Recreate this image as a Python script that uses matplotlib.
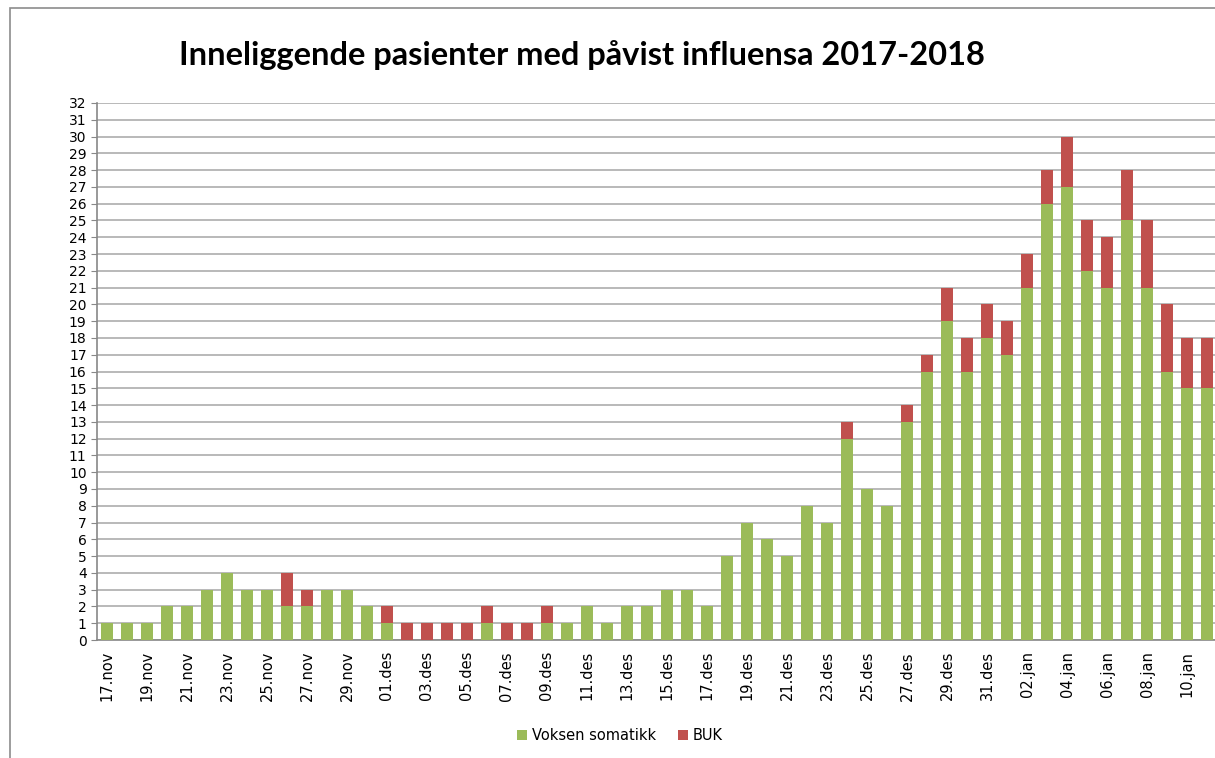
import numpy as np
import matplotlib
matplotlib.use("Agg")
import matplotlib.pyplot as plt
from matplotlib.patches import Rectangle

# dates (17.nov - 11.jan)
days = ([f"{d:02d}.nov" for d in range(17, 31)] +
        [f"{d:02d}.des" for d in range(1, 32)] +
        [f"{d:02d}.jan" for d in range(1, 12)])

voksen = [1, 1, 1, 2, 2, 3, 4, 3, 3, 2, 2, 3, 3, 2,
          1, 0, 0, 0, 0, 1, 0, 0, 1, 1, 2, 1, 2, 2, 3,
          3, 2, 5, 7, 6, 5, 8, 7, 12, 9, 8, 13, 16, 19, 16, 18,
          17, 21, 26, 27, 22, 21, 25, 21, 16, 15, 15]
buk = [0, 0, 0, 0, 0, 0, 0, 0, 0, 2, 1, 0, 0, 0,
       1, 1, 1, 1, 1, 1, 1, 1, 1, 0, 0, 0, 0, 0, 0,
       0, 0, 0, 0, 0, 0, 0, 0, 1, 0, 0, 1, 1, 2, 2, 2,
       2, 2, 2, 3, 3, 3, 3, 4, 4, 3, 3]

green = "#9BBB59"
red = "#C0504D"

fig = plt.figure(figsize=(12.15, 7.58), dpi=100)
ax = fig.add_axes([97/1215, 118/758, 1 - 97/1215, 537/758])

x = np.arange(len(days))
ax.bar(x, voksen, width=0.58, color=green, label="Voksen somatikk", zorder=3)
ax.bar(x, buk, width=0.58, bottom=voksen, color=red, label="BUK", zorder=3)

ax.set_xlim(-0.5, 55.4)
ax.set_ylim(0, 32)
ax.set_yticks(range(0, 33))
ax.tick_params(axis="y", labelsize=10, length=4, color="#888888")
ax.grid(axis="y", color="#A6A6A6", lw=1.1, zorder=0)

ax.set_xticks(x[::2])
ax.set_xticklabels(days[::2], rotation=90, fontsize=10.5)
ax.tick_params(axis="x", length=0, pad=8)

for s in ["top", "right"]:
    ax.spines[s].set_visible(False)
for s in ["left", "bottom"]:
    ax.spines[s].set_color("#888888")
    ax.spines[s].set_linewidth(1.2)

fig.text(0.479, 0.927, "Inneliggende pasienter med påvist influensa 2017-2018",
         ha="center", va="center", fontsize=23.5, fontweight="bold",
         family=["Lato", "DejaVu Sans"])

leg = fig.legend(loc="center", bbox_to_anchor=(0.51, 0.03), ncol=2, frameon=False,
                 fontsize=10.5, handlelength=0.7, handleheight=0.7, columnspacing=1.5,
                 handletextpad=0.3)

fig.patches.append(Rectangle((10/1215, -0.01), 1.1, 1 - 8/758 + 0.01,
                             transform=fig.transFigure, fill=False,
                             edgecolor="#8C8C8C", lw=1.2))

fig.savefig("out.png", dpi=100)
